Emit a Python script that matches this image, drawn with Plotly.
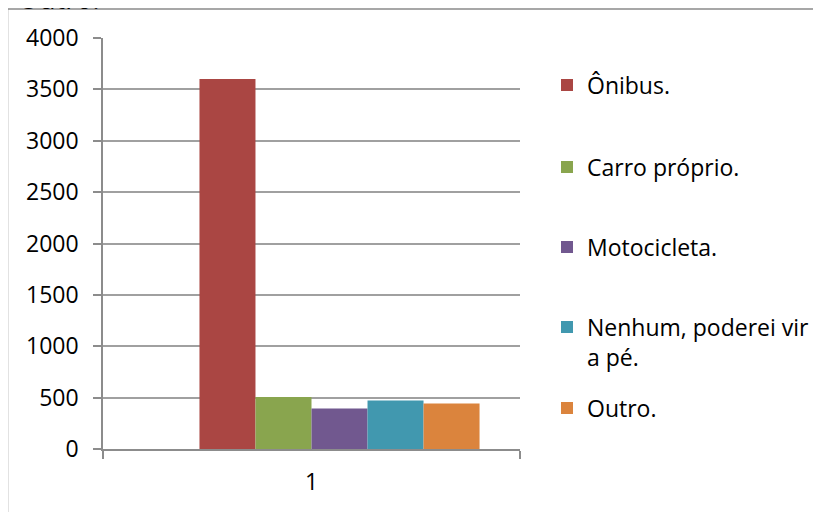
import plotly.graph_objects as go

categories = ["1"]
series_names = ["Ônibus.", "Carro próprio.", "Motocicleta.", "Nenhum, poderei vir<br>a pé.", "Outro."]
series_values = [3600, 505, 395, 473, 444]
series_colors = ["#AA4643", "#89A54E", "#71588F", "#4198AF", "#DB843D"]
y_ticks = [0, 500, 1000, 1500, 2000, 2500, 3000, 3500, 4000]

W, H = 821, 512
OFF = 8  # page body margin
# plot area in page pixels: x 103..520, y 38..449
L, T = 103 - OFF, 38 - OFF
R, B = W - (520 - OFF), H - (449 - OFF)
pw, ph = W - L - R, H - T - B
def px_x(p):
    return (p - OFF - L) / pw
def px_y(p):
    return (H - B - (p - OFF)) / ph

legend_centers = [85, 167, 247, 342, 408]

font = dict(family="Open Sans, Calibri, sans-serif", size=23, color="#000000")

fig = go.Figure()
# empty first series slot (keeps the Excel group position)
fig.add_trace(go.Bar(x=categories, y=[None], name="", showlegend=False, hoverinfo="skip"))
legend_layouts = {}
for i, (name, val, col) in enumerate(zip(series_names, series_values, series_colors)):
    key = "legend" if i == 0 else f"legend{i + 1}"
    fig.add_trace(go.Bar(x=categories, y=[val], name=name, marker=dict(color=col, line=dict(width=0)),
                         legend=key))
    legend_layouts[key] = dict(x=px_x(547), y=px_y(legend_centers[i]), xanchor="left", yanchor="middle",
                               font=font, valign="top", itemwidth=30, bgcolor="rgba(0,0,0,0)")

fig.update_layout(
    width=W, height=H,
    margin=dict(l=L, r=R, t=T, b=B, pad=0, autoexpand=False),
    paper_bgcolor="white", plot_bgcolor="white",
    barmode="group", bargap=0.194, bargroupgap=0,
    font=font,
    showlegend=True,
    xaxis=dict(type="category", range=[-0.5, 0.5], tickson="boundaries", ticks="outside",
               ticklen=8, tickcolor="#8c8c8c", tickwidth=1.5, showline=True, linecolor="#8c8c8c",
               linewidth=1.5, showgrid=False, tickfont=font, zeroline=False, ticklabelstandoff=12),
    yaxis=dict(range=[0, 4000], tickvals=y_ticks, ticks="outside", ticklen=8, tickcolor="#8c8c8c",
               tickwidth=1.5, showline=True, linecolor="#8c8c8c", linewidth=1.5,
               showgrid=True, gridcolor="#a0a0a0", gridwidth=1.5, zeroline=False,
               tickfont=font, ticklabelstandoff=10),
    **legend_layouts,
)

# outer chart border (extends beyond page right and bottom)
fig.add_shape(type="rect", xref="paper", yref="paper",
              x0=px_x(7.5), x1=px_x(840), y0=px_y(9), y1=px_y(540),
              line=dict(color="#8a8a8a", width=1.5), fillcolor="rgba(0,0,0,0)", layer="below")

# clipped text at the top of the page
fig.add_annotation(text="Outro.", xref="paper", yref="paper", x=px_x(16), y=px_y(19),
                   xanchor="left", yanchor="bottom", showarrow=False,
                   font=dict(family="Open Sans, Calibri, sans-serif", size=27, color="#000000"))

fig.write_html("out.html")
